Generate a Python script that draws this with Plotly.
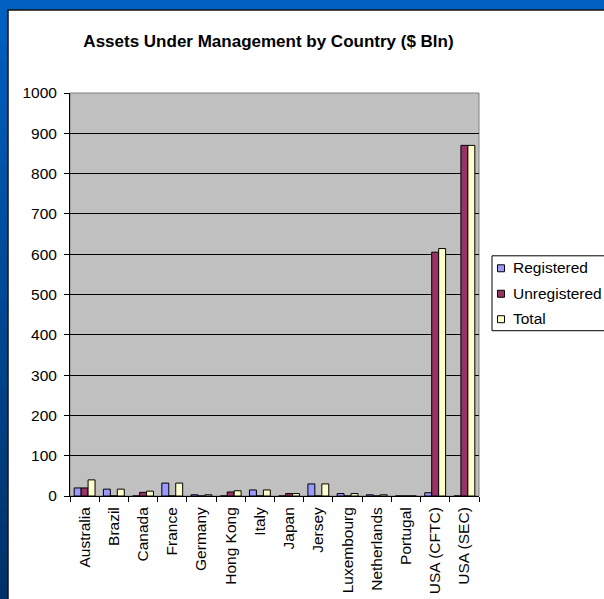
import plotly.graph_objects as go

countries = ["Australia", "Brazil", "Canada", "France", "Germany", "Hong Kong", "Italy",
             "Japan", "Jersey", "Luxembourg", "Netherlands", "Portugal", "USA (CFTC)", "USA (SEC)"]
registered = [20, 17, 0, 32, 3, 0, 15, 0, 30, 6, 3, 0, 8, 0]
unregistered = [20, 0, 9, 0, 0, 10, 0, 6, 0, 0, 0, 0, 605, 870]
total = [40, 17, 12, 32, 3, 13, 15, 6, 30, 6, 3, 0, 614, 870]

series_names = ["Registered", "Unregistered", "Total"]
series_colors = ["#9999FF", "#993366", "#FFFFCC"]
y_ticks = list(range(0, 1001, 100))

W, H = 604, 599
PL, PR, PT, PB = 70, 479, 93, 496.5


def px_to_paper_x(px):
    return (px - PL) / (PR - PL)


def px_to_paper_y(py):
    return (PB - py) / (PB - PT)


FONT = "Arial, 'Liberation Sans', sans-serif"

fig = go.Figure()
for name, vals, col in zip(series_names, [registered, unregistered, total], series_colors):
    fig.add_trace(go.Bar(
        x=countries, y=vals, name=name, showlegend=False,
        marker=dict(color=col, line=dict(color="#000000", width=1)),
    ))

shapes = []
annotations = []
# top blue band
shapes.append(dict(type="rect", xref="paper", yref="paper", layer="below",
                   x0=px_to_paper_x(-5), x1=px_to_paper_x(640),
                   y0=px_to_paper_y(11), y1=px_to_paper_y(-5),
                   fillcolor="#0060C0", line=dict(width=0)))
# left blue strip gradient
n = 40
top_c = (0, 96, 192)
bot_c = (0, 50, 105)
for i in range(n):
    t = i / (n - 1)
    c = tuple(int(round(top_c[k] + (bot_c[k] - top_c[k]) * t)) for k in range(3))
    y0 = i * H / n
    y1 = (i + 1) * H / n + 1
    shapes.append(dict(type="rect", xref="paper", yref="paper", layer="below",
                       x0=px_to_paper_x(-5), x1=px_to_paper_x(8),
                       y0=px_to_paper_y(y1), y1=px_to_paper_y(y0),
                       fillcolor="rgb(%d,%d,%d)" % c, line=dict(width=0)))
# white chart panel with dark edge
shapes.append(dict(type="rect", xref="paper", yref="paper", layer="below",
                   x0=px_to_paper_x(8), x1=px_to_paper_x(640),
                   y0=px_to_paper_y(640), y1=px_to_paper_y(10),
                   fillcolor="#FFFFFF", line=dict(color="#111111", width=1.5)))
# grey plot area
shapes.append(dict(type="rect", xref="paper", yref="paper", layer="below",
                   x0=0, x1=1, y0=0, y1=1,
                   fillcolor="#C0C0C0", line=dict(color="#808080", width=1)))

# legend (box, swatches, labels)
LX0, LY0, LY1 = 492, 256, 331
shapes.append(dict(type="rect", xref="paper", yref="paper", layer="above",
                   x0=px_to_paper_x(LX0), x1=px_to_paper_x(640),
                   y0=px_to_paper_y(LY1), y1=px_to_paper_y(LY0),
                   fillcolor="#FFFFFF", line=dict(color="#000000", width=1)))
item_y = [268, 293.5, 319]
for name, col, yc in zip(series_names, series_colors, item_y):
    shapes.append(dict(type="rect", xref="paper", yref="paper", layer="above",
                       x0=px_to_paper_x(497.5), x1=px_to_paper_x(504.5),
                       y0=px_to_paper_y(yc + 4), y1=px_to_paper_y(yc - 3),
                       fillcolor=col, line=dict(color="#000000", width=1)))
    annotations.append(dict(text=name, xref="paper", yref="paper",
                            x=px_to_paper_x(511), y=px_to_paper_y(yc),
                            xanchor="left", yanchor="middle", showarrow=False,
                            font=dict(family=FONT, size=15.5, color="#000000")))

fig.update_layout(
    width=W, height=H,
    margin=dict(l=PL, r=W - PR, t=PT, b=H - PB, pad=0, autoexpand=False),
    paper_bgcolor="#0060C0",
    plot_bgcolor="rgba(0,0,0,0)",
    font=dict(family=FONT, size=15.5, color="#000000"),
    title=dict(text="<b>Assets Under Management by Country ($ Bln)</b>",
               font=dict(family=FONT, size=17, color="#000000"),
               x=px_to_paper_x(268.5), xref="paper", xanchor="center",
               y=1 - 41 / H, yref="container", yanchor="middle"),
    barmode="group",
    bargap=0.286,
    bargroupgap=0,
    showlegend=False,
    shapes=shapes,
    annotations=annotations,
)

fig.update_xaxes(
    type="category", tickangle=-90, tickson="boundaries",
    ticks="outside", ticklen=5, tickcolor="#000000", tickwidth=1,
    showline=True, linecolor="#000000", linewidth=1,
    showgrid=False, zeroline=False, ticklabelstandoff=4,
    tickfont=dict(family=FONT, size=15.5, color="#000000"),
)
fig.update_yaxes(
    range=[0, 1000], tickvals=y_ticks,
    ticks="outside", ticklen=5, tickcolor="#000000", tickwidth=1,
    showline=True, linecolor="#000000", linewidth=1,
    showgrid=True, gridcolor="#000000", gridwidth=1, zeroline=False,
    ticklabelstandoff=4,
    tickfont=dict(family=FONT, size=15.5, color="#000000"),
)

fig.write_html("out.html")
